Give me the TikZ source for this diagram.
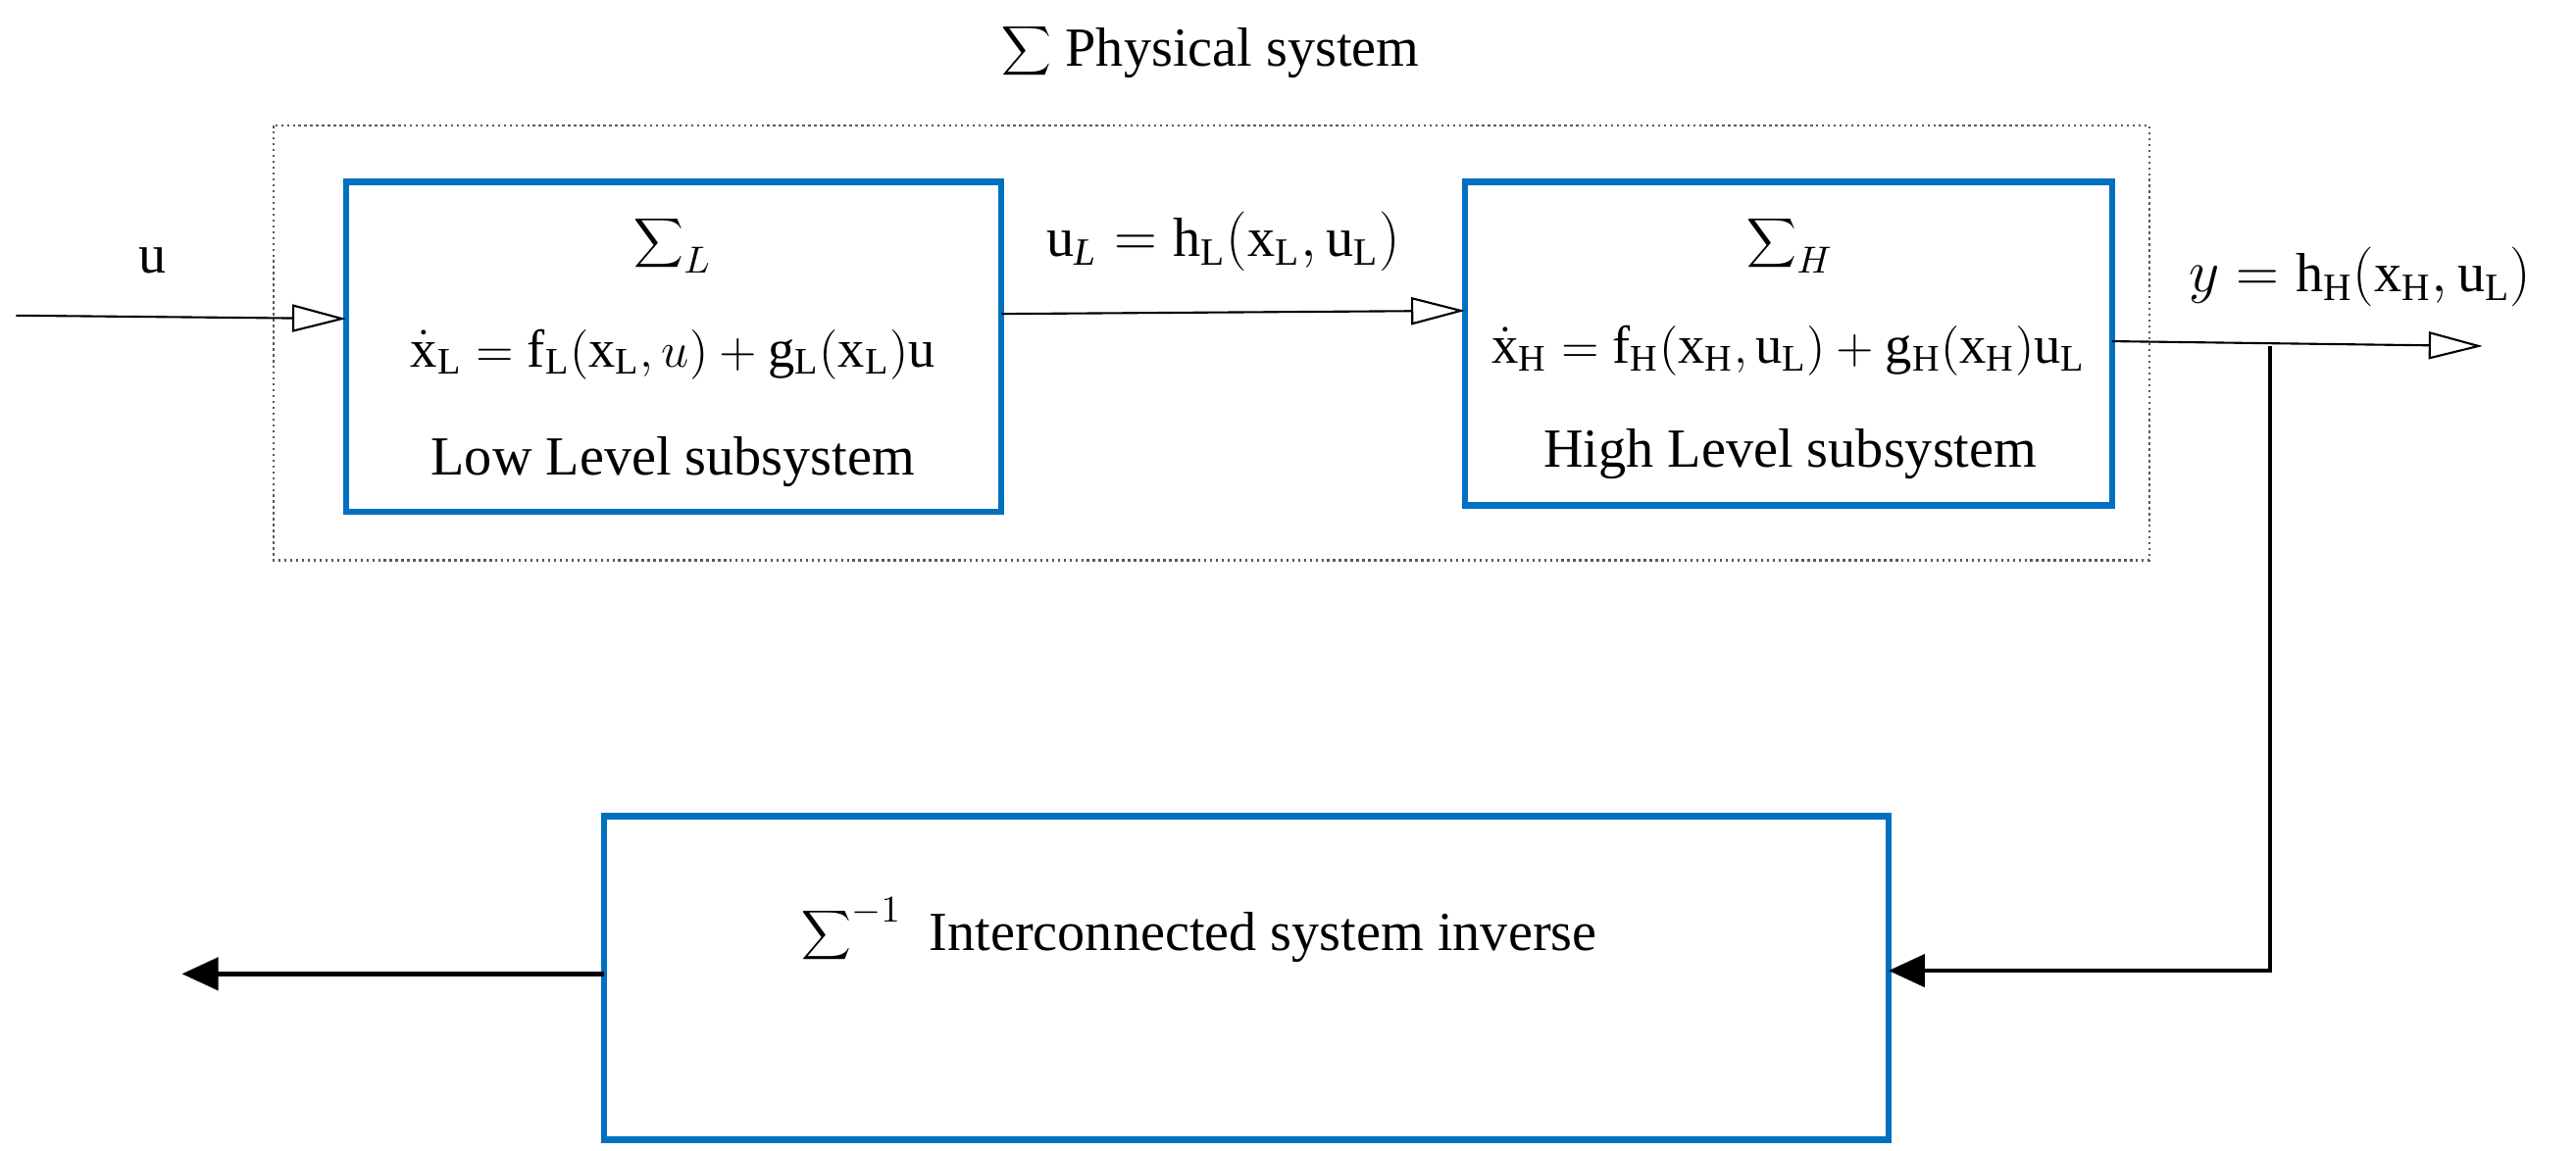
\documentclass[tikz,border=0pt]{standalone}
\usepackage{fontspec}
\setmainfont{Liberation Serif}
\usetikzlibrary{arrows.meta}
\definecolor{bl}{RGB}{0,112,192}
\begin{document}
\begin{tikzpicture}[x=0.01642cm,y=-0.01642cm,font=\fontsize{16}{19}\selectfont,
 blk/.style={draw=bl,line width=1.8pt},
 thinln/.style={line width=0.6pt},
 eq/.style={font=\fontsize{15.5}{18}\selectfont,inner sep=1pt},
 opentip/.style={-{Triangle[open,length=0.55cm,width=0.28cm]}},
 filltip/.style={-{Triangle[length=0.37cm,width=0.33cm]},line width=1.3pt}]
\useasboundingbox (0,0) rectangle (1600,715);
\draw[densely dotted,gray!70!black,line width=0.7pt] (170,78) rectangle (1335,348);
\node at (752,32) (title) {$\displaystyle\sum$ Physical system};
\draw[blk] (215,113) rectangle (622,318);
\node at (418,152) (Ls) {$\displaystyle\sum\nolimits_L$};
\node[eq] at (418,220) (Le) {$\dot{\mathrm{x}}_{\mathrm{L}}=\mathrm{f}_{\mathrm{L}}(\mathrm{x}_{\mathrm{L}},u)+\mathrm{g}_{\mathrm{L}}(\mathrm{x}_{\mathrm{L}})\mathrm{u}$};
\node at (418,287) (Lt) {Low Level subsystem};
\draw[blk] (910,113) rectangle (1312,314);
\node at (1112,152) (Hs) {$\displaystyle\sum\nolimits_H$};
\node[eq,inner sep=0pt] at (1111,218) (He) {$\dot{\mathrm{x}}_{\mathrm{H}}=\mathrm{f}_{\mathrm{H}}(\mathrm{x}_{\mathrm{H}},\mathrm{u}_{\mathrm{L}})+\mathrm{g}_{\mathrm{H}}(\mathrm{x}_{\mathrm{H}})\mathrm{u}_{\mathrm{L}}$};
\node at (1112,282) (Ht) {High Level subsystem};
\draw[blk] (375,507) rectangle (1173,708);
\node at (745,578) (It) {$\displaystyle\sum\nolimits^{-1}$\ \ Interconnected system inverse};
\coordinate (in) at (10,196);
\coordinate (inL) at (215,198);
\coordinate (Lo) at (622,195);
\coordinate (Hi) at (910,193);
\coordinate (Ho) at (1312,212);
\coordinate (out) at (1542,215);
\coordinate (br) at (1410,215);
\coordinate (dn) at (1410,603);
\coordinate (Ii) at (1173,603);
\coordinate (Io) at (375,605);
\coordinate (fo) at (113,605);
\draw[thinln,opentip] (in) -- (inL);
\draw[thinln,opentip] (Lo) -- (Hi);
\draw[thinln,opentip] (Ho) -- (out);
\draw[filltip] (br) -- (dn) -- (Ii);
\draw[filltip] (Io) -- (fo);
\node at (95,162) (u) {u};
\node at (760,150) (ul) {$\mathrm{u}_{\mathit{L}}=\mathrm{h}_{\mathrm{L}}(\mathrm{x}_{\mathrm{L}},\mathrm{u}_{\mathrm{L}})$};
\node at (1466,172) (y) {$y=\mathrm{h}_{\mathrm{H}}(\mathrm{x}_{\mathrm{H}},\mathrm{u}_{\mathrm{L}})$};
\end{tikzpicture}
\end{document}
